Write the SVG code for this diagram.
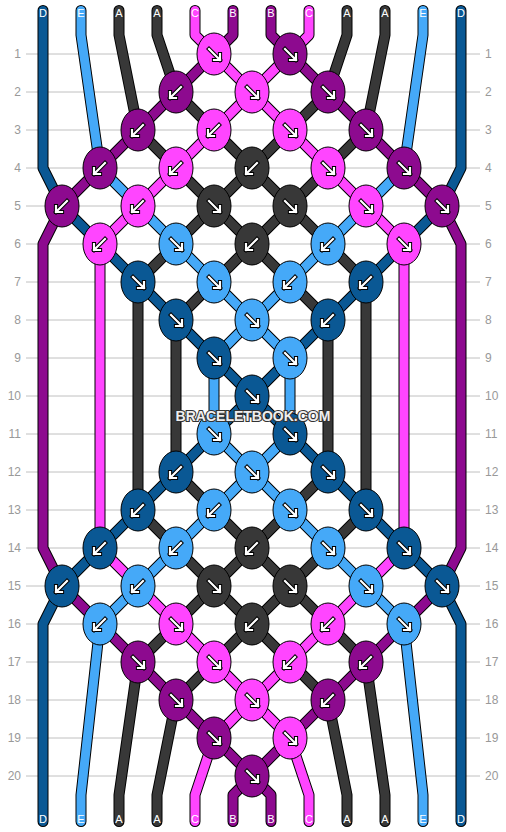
<svg xmlns="http://www.w3.org/2000/svg" xmlns:xlink="http://www.w3.org/1999/xlink" width="506" height="832" viewBox="0 0 506 832">
<style>
.g{stroke:#c0c0c0;stroke-width:1}
.rl{font-family:"Liberation Sans",Arial,sans-serif;font-size:12px;fill:#999}
.sl{font-family:"Liberation Sans",Arial,sans-serif;font-size:11px;fill:#fff;text-anchor:middle}
.o{fill:none;stroke:#000;stroke-width:11;stroke-linecap:round;stroke-linejoin:round}
.i{fill:none;stroke-width:9;stroke-linecap:round;stroke-linejoin:round}
.sD{stroke:#0A5894}.sE{stroke:#45A9F8}.sA{stroke:#383838}.sB{stroke:#8D0A8F}.sC{stroke:#FF45FF}
.k{stroke:#000;stroke-width:1}
.fD{fill:#0A5894}.fE{fill:#45A9F8}.fA{fill:#383838}.fB{fill:#8D0A8F}.fC{fill:#FF45FF}
.wm{font-family:"Liberation Sans",Arial,sans-serif;font-size:14px;font-weight:bold;fill:#eeeeee;stroke:#333;stroke-width:2.2;paint-order:stroke;text-anchor:middle}
</style>
<defs>
<g id="af">
<path d="M-5,-5 L6,6 M0,6 H6 V0" fill="none" stroke="#000" stroke-width="4.2" stroke-linecap="square"/>
<path d="M-5,-5 L6,6 M0,6 H6 V0" fill="none" stroke="#fff" stroke-width="2.2" stroke-linecap="square"/>
</g>
</defs>
<rect width="506" height="832" fill="#fff"/>
<g id="grid">
<line class="g" x1="26" y1="54" x2="480" y2="54"/><line class="g" x1="26" y1="92" x2="480" y2="92"/><line class="g" x1="26" y1="130" x2="480" y2="130"/><line class="g" x1="26" y1="168" x2="480" y2="168"/><line class="g" x1="26" y1="206" x2="480" y2="206"/><line class="g" x1="26" y1="244" x2="480" y2="244"/><line class="g" x1="26" y1="282" x2="480" y2="282"/><line class="g" x1="26" y1="320" x2="480" y2="320"/><line class="g" x1="26" y1="358" x2="480" y2="358"/><line class="g" x1="26" y1="396" x2="480" y2="396"/><line class="g" x1="26" y1="434" x2="480" y2="434"/><line class="g" x1="26" y1="472" x2="480" y2="472"/><line class="g" x1="26" y1="510" x2="480" y2="510"/><line class="g" x1="26" y1="548" x2="480" y2="548"/><line class="g" x1="26" y1="586" x2="480" y2="586"/><line class="g" x1="26" y1="624" x2="480" y2="624"/><line class="g" x1="26" y1="662" x2="480" y2="662"/><line class="g" x1="26" y1="700" x2="480" y2="700"/><line class="g" x1="26" y1="738" x2="480" y2="738"/><line class="g" x1="26" y1="776" x2="480" y2="776"/>
</g>
<g id="rowlabels">
<g text-anchor="end">
<text class="rl" x="21" y="58">1</text><text class="rl" x="21" y="96">2</text><text class="rl" x="21" y="134">3</text><text class="rl" x="21" y="172">4</text><text class="rl" x="21" y="210">5</text><text class="rl" x="21" y="248">6</text><text class="rl" x="21" y="286">7</text><text class="rl" x="21" y="324">8</text><text class="rl" x="21" y="362">9</text><text class="rl" x="21" y="400">10</text><text class="rl" x="21" y="438">11</text><text class="rl" x="21" y="476">12</text><text class="rl" x="21" y="514">13</text><text class="rl" x="21" y="552">14</text><text class="rl" x="21" y="590">15</text><text class="rl" x="21" y="628">16</text><text class="rl" x="21" y="666">17</text><text class="rl" x="21" y="704">18</text><text class="rl" x="21" y="742">19</text><text class="rl" x="21" y="780">20</text>
</g>
<g text-anchor="start">
<text class="rl" x="485" y="58">1</text><text class="rl" x="485" y="96">2</text><text class="rl" x="485" y="134">3</text><text class="rl" x="485" y="172">4</text><text class="rl" x="485" y="210">5</text><text class="rl" x="485" y="248">6</text><text class="rl" x="485" y="286">7</text><text class="rl" x="485" y="324">8</text><text class="rl" x="485" y="362">9</text><text class="rl" x="485" y="400">10</text><text class="rl" x="485" y="438">11</text><text class="rl" x="485" y="476">12</text><text class="rl" x="485" y="514">13</text><text class="rl" x="485" y="552">14</text><text class="rl" x="485" y="590">15</text><text class="rl" x="485" y="628">16</text><text class="rl" x="485" y="666">17</text><text class="rl" x="485" y="704">18</text><text class="rl" x="485" y="742">19</text><text class="rl" x="485" y="780">20</text>
</g>
</g>
<g id="connectors">
<path class="o" d="M43,10.5 V168 L62,206 L442,586 L461,624 V821.5"/><path class="i sD" d="M43,10.5 V168 L62,206 L442,586 L461,624 V821.5"/>
<path class="o" d="M81,10.5 V35 L100,168 L290,358 V434 L100,624 L81,795 V821.5"/><path class="i sE" d="M81,10.5 V35 L100,168 L290,358 V434 L100,624 L81,795 V821.5"/>
<path class="o" d="M119,10.5 V35 L138,130 L328,320 V472 L138,662 L119,795 V821.5"/><path class="i sA" d="M119,10.5 V35 L138,130 L328,320 V472 L138,662 L119,795 V821.5"/>
<path class="o" d="M157,10.5 V35 L176,92 L366,282 V510 L176,700 L157,795 V821.5"/><path class="i sA" d="M157,10.5 V35 L176,92 L366,282 V510 L176,700 L157,795 V821.5"/>
<path class="o" d="M195,10.5 V35 L214,54 L404,244 V548 L214,738 L195,795 V821.5"/><path class="i sC" d="M195,10.5 V35 L214,54 L404,244 V548 L214,738 L195,795 V821.5"/>
<path class="o" d="M233,10.5 V35 L214,54 L62,206 L43,244 V548 L62,586 L252,776 L271,795 V821.5"/><path class="i sB" d="M233,10.5 V35 L214,54 L62,206 L43,244 V548 L62,586 L252,776 L271,795 V821.5"/>
<path class="o" d="M271,10.5 V35 L290,54 L442,206 L461,244 V548 L442,586 L252,776 L233,795 V821.5"/><path class="i sB" d="M271,10.5 V35 L290,54 L442,206 L461,244 V548 L442,586 L252,776 L233,795 V821.5"/>
<path class="o" d="M309,10.5 V35 L290,54 L100,244 V548 L290,738 L309,795 V821.5"/><path class="i sC" d="M309,10.5 V35 L290,54 L100,244 V548 L290,738 L309,795 V821.5"/>
<path class="o" d="M347,10.5 V35 L328,92 L138,282 V510 L328,700 L347,795 V821.5"/><path class="i sA" d="M347,10.5 V35 L328,92 L138,282 V510 L328,700 L347,795 V821.5"/>
<path class="o" d="M385,10.5 V35 L366,130 L176,320 V472 L366,662 L385,795 V821.5"/><path class="i sA" d="M385,10.5 V35 L366,130 L176,320 V472 L366,662 L385,795 V821.5"/>
<path class="o" d="M423,10.5 V35 L404,168 L214,358 V434 L404,624 L423,795 V821.5"/><path class="i sE" d="M423,10.5 V35 L404,168 L214,358 V434 L404,624 L423,795 V821.5"/>
<path class="o" d="M461,10.5 V168 L442,206 L62,586 L43,624 V821.5"/><path class="i sD" d="M461,10.5 V168 L442,206 L62,586 L43,624 V821.5"/>
</g>
<g id="stringlabels">
<text class="sl" x="43" y="16.5">D</text><text class="sl" x="81" y="16.5">E</text><text class="sl" x="119" y="16.5">A</text><text class="sl" x="157" y="16.5">A</text><text class="sl" x="195" y="16.5">C</text><text class="sl" x="233" y="16.5">B</text><text class="sl" x="271" y="16.5">B</text><text class="sl" x="309" y="16.5">C</text><text class="sl" x="347" y="16.5">A</text><text class="sl" x="385" y="16.5">A</text><text class="sl" x="423" y="16.5">E</text><text class="sl" x="461" y="16.5">D</text>
<text class="sl" x="43" y="823">D</text><text class="sl" x="81" y="823">E</text><text class="sl" x="119" y="823">A</text><text class="sl" x="157" y="823">A</text><text class="sl" x="195" y="823">C</text><text class="sl" x="233" y="823">B</text><text class="sl" x="271" y="823">B</text><text class="sl" x="309" y="823">C</text><text class="sl" x="347" y="823">A</text><text class="sl" x="385" y="823">A</text><text class="sl" x="423" y="823">E</text><text class="sl" x="461" y="823">D</text>
</g>
<g id="knots">
<g id="k1a"><ellipse class="k fC" cx="214" cy="54" rx="17" ry="21"/><use xlink:href="#af" href="#af" transform="translate(214,54)"/></g>
<g id="k1b"><ellipse class="k fB" cx="290" cy="54" rx="17" ry="21"/><use href="#af" transform="translate(290,54)"/></g>
<g id="k2a"><ellipse class="k fB" cx="176" cy="92" rx="17" ry="21"/><use href="#af" transform="translate(176,92) scale(-1,1)"/></g>
<g id="k2b"><ellipse class="k fC" cx="252" cy="92" rx="17" ry="21"/><use href="#af" transform="translate(252,92)"/></g>
<g id="k2c"><ellipse class="k fB" cx="328" cy="92" rx="17" ry="21"/><use href="#af" transform="translate(328,92)"/></g>
<g id="k3a"><ellipse class="k fB" cx="138" cy="130" rx="17" ry="21"/><use href="#af" transform="translate(138,130) scale(-1,1)"/></g>
<g id="k3b"><ellipse class="k fC" cx="214" cy="130" rx="17" ry="21"/><use href="#af" transform="translate(214,130) scale(-1,1)"/></g>
<g id="k3c"><ellipse class="k fC" cx="290" cy="130" rx="17" ry="21"/><use href="#af" transform="translate(290,130)"/></g>
<g id="k3d"><ellipse class="k fB" cx="366" cy="130" rx="17" ry="21"/><use href="#af" transform="translate(366,130)"/></g>
<g id="k4a"><ellipse class="k fB" cx="100" cy="168" rx="17" ry="21"/><use href="#af" transform="translate(100,168) scale(-1,1)"/></g>
<g id="k4b"><ellipse class="k fC" cx="176" cy="168" rx="17" ry="21"/><use href="#af" transform="translate(176,168) scale(-1,1)"/></g>
<g id="k4c"><ellipse class="k fA" cx="252" cy="168" rx="17" ry="21"/><use href="#af" transform="translate(252,168) scale(-1,1)"/></g>
<g id="k4d"><ellipse class="k fC" cx="328" cy="168" rx="17" ry="21"/><use href="#af" transform="translate(328,168)"/></g>
<g id="k4e"><ellipse class="k fB" cx="404" cy="168" rx="17" ry="21"/><use href="#af" transform="translate(404,168)"/></g>
<g id="k5a"><ellipse class="k fB" cx="62" cy="206" rx="17" ry="21"/><use href="#af" transform="translate(62,206) scale(-1,1)"/></g>
<g id="k5b"><ellipse class="k fC" cx="138" cy="206" rx="17" ry="21"/><use href="#af" transform="translate(138,206) scale(-1,1)"/></g>
<g id="k5c"><ellipse class="k fA" cx="214" cy="206" rx="17" ry="21"/><use href="#af" transform="translate(214,206)"/></g>
<g id="k5d"><ellipse class="k fA" cx="290" cy="206" rx="17" ry="21"/><use href="#af" transform="translate(290,206)"/></g>
<g id="k5e"><ellipse class="k fC" cx="366" cy="206" rx="17" ry="21"/><use href="#af" transform="translate(366,206)"/></g>
<g id="k5f"><ellipse class="k fB" cx="442" cy="206" rx="17" ry="21"/><use href="#af" transform="translate(442,206)"/></g>
<g id="k6a"><ellipse class="k fC" cx="100" cy="244" rx="17" ry="21"/><use href="#af" transform="translate(100,244) scale(-1,1)"/></g>
<g id="k6b"><ellipse class="k fE" cx="176" cy="244" rx="17" ry="21"/><use href="#af" transform="translate(176,244)"/></g>
<g id="k6c"><ellipse class="k fA" cx="252" cy="244" rx="17" ry="21"/><use href="#af" transform="translate(252,244) scale(-1,1)"/></g>
<g id="k6d"><ellipse class="k fE" cx="328" cy="244" rx="17" ry="21"/><use href="#af" transform="translate(328,244) scale(-1,1)"/></g>
<g id="k6e"><ellipse class="k fC" cx="404" cy="244" rx="17" ry="21"/><use href="#af" transform="translate(404,244)"/></g>
<g id="k7a"><ellipse class="k fD" cx="138" cy="282" rx="17" ry="21"/><use href="#af" transform="translate(138,282)"/></g>
<g id="k7b"><ellipse class="k fE" cx="214" cy="282" rx="17" ry="21"/><use href="#af" transform="translate(214,282)"/></g>
<g id="k7c"><ellipse class="k fE" cx="290" cy="282" rx="17" ry="21"/><use href="#af" transform="translate(290,282) scale(-1,1)"/></g>
<g id="k7d"><ellipse class="k fD" cx="366" cy="282" rx="17" ry="21"/><use href="#af" transform="translate(366,282) scale(-1,1)"/></g>
<g id="k8a"><ellipse class="k fD" cx="176" cy="320" rx="17" ry="21"/><use href="#af" transform="translate(176,320)"/></g>
<g id="k8b"><ellipse class="k fE" cx="252" cy="320" rx="17" ry="21"/><use href="#af" transform="translate(252,320)"/></g>
<g id="k8c"><ellipse class="k fD" cx="328" cy="320" rx="17" ry="21"/><use href="#af" transform="translate(328,320) scale(-1,1)"/></g>
<g id="k9a"><ellipse class="k fD" cx="214" cy="358" rx="17" ry="21"/><use href="#af" transform="translate(214,358)"/></g>
<g id="k9b"><ellipse class="k fE" cx="290" cy="358" rx="17" ry="21"/><use href="#af" transform="translate(290,358)"/></g>
<g id="k10a"><ellipse class="k fD" cx="252" cy="396" rx="17" ry="21"/><use href="#af" transform="translate(252,396)"/></g>
<g id="k11a"><ellipse class="k fE" cx="214" cy="434" rx="17" ry="21"/><use href="#af" transform="translate(214,434)"/></g>
<g id="k11b"><ellipse class="k fD" cx="290" cy="434" rx="17" ry="21"/><use href="#af" transform="translate(290,434)"/></g>
<g id="k12a"><ellipse class="k fD" cx="176" cy="472" rx="17" ry="21"/><use href="#af" transform="translate(176,472) scale(-1,1)"/></g>
<g id="k12b"><ellipse class="k fE" cx="252" cy="472" rx="17" ry="21"/><use href="#af" transform="translate(252,472)"/></g>
<g id="k12c"><ellipse class="k fD" cx="328" cy="472" rx="17" ry="21"/><use href="#af" transform="translate(328,472)"/></g>
<g id="k13a"><ellipse class="k fD" cx="138" cy="510" rx="17" ry="21"/><use href="#af" transform="translate(138,510) scale(-1,1)"/></g>
<g id="k13b"><ellipse class="k fE" cx="214" cy="510" rx="17" ry="21"/><use href="#af" transform="translate(214,510) scale(-1,1)"/></g>
<g id="k13c"><ellipse class="k fE" cx="290" cy="510" rx="17" ry="21"/><use href="#af" transform="translate(290,510)"/></g>
<g id="k13d"><ellipse class="k fD" cx="366" cy="510" rx="17" ry="21"/><use href="#af" transform="translate(366,510)"/></g>
<g id="k14a"><ellipse class="k fD" cx="100" cy="548" rx="17" ry="21"/><use href="#af" transform="translate(100,548) scale(-1,1)"/></g>
<g id="k14b"><ellipse class="k fE" cx="176" cy="548" rx="17" ry="21"/><use href="#af" transform="translate(176,548) scale(-1,1)"/></g>
<g id="k14c"><ellipse class="k fA" cx="252" cy="548" rx="17" ry="21"/><use href="#af" transform="translate(252,548) scale(-1,1)"/></g>
<g id="k14d"><ellipse class="k fE" cx="328" cy="548" rx="17" ry="21"/><use href="#af" transform="translate(328,548)"/></g>
<g id="k14e"><ellipse class="k fD" cx="404" cy="548" rx="17" ry="21"/><use href="#af" transform="translate(404,548)"/></g>
<g id="k15a"><ellipse class="k fD" cx="62" cy="586" rx="17" ry="21"/><use href="#af" transform="translate(62,586) scale(-1,1)"/></g>
<g id="k15b"><ellipse class="k fE" cx="138" cy="586" rx="17" ry="21"/><use href="#af" transform="translate(138,586) scale(-1,1)"/></g>
<g id="k15c"><ellipse class="k fA" cx="214" cy="586" rx="17" ry="21"/><use href="#af" transform="translate(214,586)"/></g>
<g id="k15d"><ellipse class="k fA" cx="290" cy="586" rx="17" ry="21"/><use href="#af" transform="translate(290,586)"/></g>
<g id="k15e"><ellipse class="k fE" cx="366" cy="586" rx="17" ry="21"/><use href="#af" transform="translate(366,586)"/></g>
<g id="k15f"><ellipse class="k fD" cx="442" cy="586" rx="17" ry="21"/><use href="#af" transform="translate(442,586)"/></g>
<g id="k16a"><ellipse class="k fE" cx="100" cy="624" rx="17" ry="21"/><use href="#af" transform="translate(100,624) scale(-1,1)"/></g>
<g id="k16b"><ellipse class="k fC" cx="176" cy="624" rx="17" ry="21"/><use href="#af" transform="translate(176,624)"/></g>
<g id="k16c"><ellipse class="k fA" cx="252" cy="624" rx="17" ry="21"/><use href="#af" transform="translate(252,624) scale(-1,1)"/></g>
<g id="k16d"><ellipse class="k fC" cx="328" cy="624" rx="17" ry="21"/><use href="#af" transform="translate(328,624) scale(-1,1)"/></g>
<g id="k16e"><ellipse class="k fE" cx="404" cy="624" rx="17" ry="21"/><use href="#af" transform="translate(404,624)"/></g>
<g id="k17a"><ellipse class="k fB" cx="138" cy="662" rx="17" ry="21"/><use href="#af" transform="translate(138,662)"/></g>
<g id="k17b"><ellipse class="k fC" cx="214" cy="662" rx="17" ry="21"/><use href="#af" transform="translate(214,662)"/></g>
<g id="k17c"><ellipse class="k fC" cx="290" cy="662" rx="17" ry="21"/><use href="#af" transform="translate(290,662) scale(-1,1)"/></g>
<g id="k17d"><ellipse class="k fB" cx="366" cy="662" rx="17" ry="21"/><use href="#af" transform="translate(366,662) scale(-1,1)"/></g>
<g id="k18a"><ellipse class="k fB" cx="176" cy="700" rx="17" ry="21"/><use href="#af" transform="translate(176,700)"/></g>
<g id="k18b"><ellipse class="k fC" cx="252" cy="700" rx="17" ry="21"/><use href="#af" transform="translate(252,700)"/></g>
<g id="k18c"><ellipse class="k fB" cx="328" cy="700" rx="17" ry="21"/><use href="#af" transform="translate(328,700) scale(-1,1)"/></g>
<g id="k19a"><ellipse class="k fB" cx="214" cy="738" rx="17" ry="21"/><use href="#af" transform="translate(214,738)"/></g>
<g id="k19b"><ellipse class="k fC" cx="290" cy="738" rx="17" ry="21"/><use href="#af" transform="translate(290,738)"/></g>
<g id="k20a"><ellipse class="k fB" cx="252" cy="776" rx="17" ry="21"/><use href="#af" transform="translate(252,776)"/></g>
</g>
<text class="wm" x="253" y="421">BRACELETBOOK.COM</text>
</svg>
